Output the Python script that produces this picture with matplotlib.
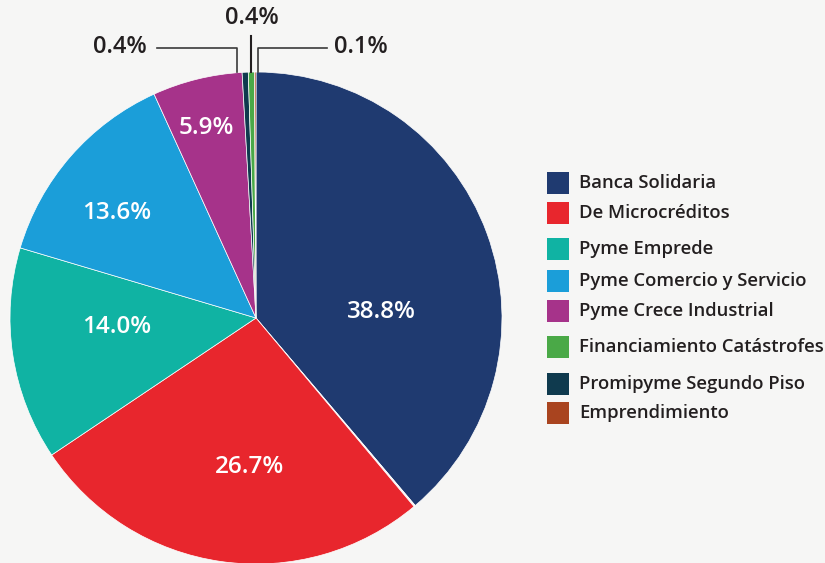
import matplotlib.pyplot as plt
from matplotlib.patches import Rectangle

# data
categorias = ['Banca Solidaria', 'De Microcréditos', 'Pyme Emprede',
              'Pyme Comercio y Servicio', 'Pyme Crece Industrial',
              'Financiamiento Catástrofes', 'Promipyme Segundo Piso',
              'Emprendimiento']
porcentajes = [38.8, 26.7, 14.0, 13.6, 5.9, 0.4, 0.4, 0.1]
etiquetas = ['38.8%', '26.7%', '14.0%', '13.6%', '5.9%', '0.4%', '0.4%', '0.1%']
colores = ['#1f3a70', '#e8262d', '#10b3a3', '#1b9ed9', '#a6338a',
           '#4aa947', '#0f3a4e', '#a9441f']

# pie order clockwise from the top (tiny slices sit at the top)
orden = [0, 1, 2, 3, 4, 6, 5, 7]
resto = 100 - sum(porcentajes)

fondo = '#f6f6f5'
texto = '#231f20'
plt.rcParams['font.family'] = ['Open Sans', 'DejaVu Sans']

fig = plt.figure(figsize=(8.25, 5.63), dpi=100, facecolor=fondo)
W, H = 825, 563

# pie axes: center (256,318), radius 246 px
r = 246
ax = fig.add_axes([(256 - r) / W, (H - 318 - r) / H, 2 * r / W, 2 * r / H])
ax.set_facecolor(fondo)
vals = [porcentajes[i] for i in orden]
cols = [colores[i] for i in orden]
# the unassigned remainder shows as a thin gap after Banca Solidaria
vals.insert(1, resto)
cols.insert(1, fondo)
ax.pie(vals, colors=cols, startangle=90, counterclock=False, radius=1,
       wedgeprops=dict(edgecolor='white', linewidth=0.5))
ax.set_xlim(-1, 1)
ax.set_ylim(-1, 1)
ax.set_aspect('equal')
ax.axis('off')

# labels inside the big slices (data coords of the pie axes)
pos_in = [(0.508, 0.024), (-0.028, -0.606), (-0.565, -0.037),
          (-0.565, 0.427), (-0.203, 0.772)]
for i, (x, y) in enumerate(pos_in):
    ax.text(x, y, etiquetas[i], color='white', fontsize=17.5,
            fontweight='semibold', ha='center', va='center')

# small slices: labels outside with leader lines (pixel positions)
def px(x, y):
    return x / W, 1 - y / H

lc = '#3a3a3a'
# Promipyme 0.4%
fig.add_artist(plt.Line2D([157 / W, 237 / W, 237 / W],
                          [1 - 48 / H, 1 - 48 / H, 1 - 72 / H],
                          color=lc, lw=1.2))
fig.text(*px(120, 47), etiquetas[6], color=texto, fontsize=17,
         fontweight='semibold', ha='center', va='center')
# Catastrofes 0.4%
fig.add_artist(plt.Line2D([250.5 / W, 250.5 / W], [1 - 36 / H, 1 - 72 / H],
                          color=texto, lw=1.5))
fig.text(*px(252, 18), etiquetas[5], color=texto, fontsize=17,
         fontweight='semibold', ha='center', va='center')
# Emprendimiento 0.1%
fig.add_artist(plt.Line2D([327 / W, 258 / W, 258 / W],
                          [1 - 48 / H, 1 - 48 / H, 1 - 72 / H],
                          color=lc, lw=1.2))
fig.text(*px(361, 47), etiquetas[7], color=texto, fontsize=17,
         fontweight='semibold', ha='center', va='center')

# legend drawn by hand
filas = [183, 213, 249, 281, 311, 347, 384, 413]
for i, y in enumerate(filas):
    fig.add_artist(Rectangle((547 / W, 1 - (y + 11) / H), 22 / W, 22 / H,
                             facecolor=colores[i], edgecolor='none'))
    fig.text(579 / W, 1 - y / H, categorias[i], color=texto, fontsize=13.3,
             fontweight='semibold', ha='left', va='center')

fig.savefig('out.png', dpi=100, facecolor=fondo)
